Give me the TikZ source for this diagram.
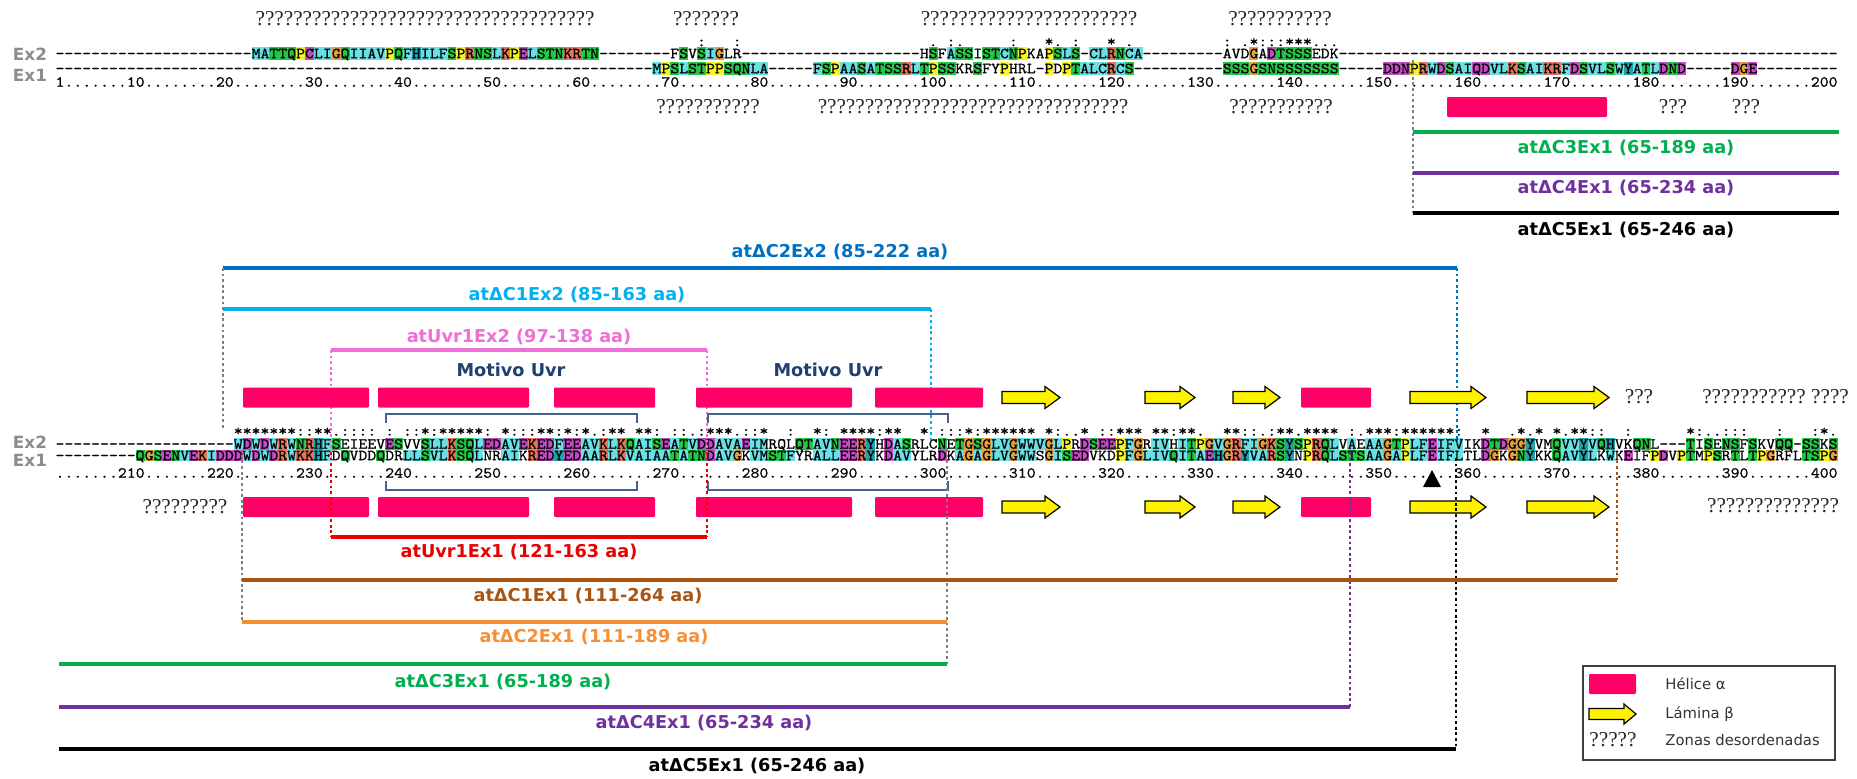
\documentclass[tikz,border=0pt]{standalone}
\usepackage{fontspec}
\setmainfont{DejaVu Sans}
\newfontfamily\qfont{Liberation Serif}
\newfontfamily\seqfont{lmmono10-regular}[Extension=.otf,FakeStretch=1.1,FakeBold=0.6]

\definecolor{rcc}{RGB}{104,224,228}
\definecolor{rcg}{RGB}{36,198,72}
\definecolor{rcm}{RGB}{196,76,196}
\definecolor{rcr}{RGB}{226,116,96}
\definecolor{rco}{RGB}{226,160,66}
\definecolor{rcy}{RGB}{244,244,40}
\definecolor{rct}{RGB}{30,162,170}
\definecolor{helixc}{RGB}{255,0,102}
\definecolor{cblue}{RGB}{0,112,192}
\definecolor{ccyan}{RGB}{0,176,240}
\definecolor{cpink}{RGB}{238,112,214}
\definecolor{cred}{RGB}{230,0,0}
\definecolor{cbrown}{RGB}{168,84,18}
\definecolor{corange}{RGB}{247,143,52}
\definecolor{cgreen}{RGB}{0,176,80}
\definecolor{cpurple}{RGB}{112,48,160}
\definecolor{motif}{RGB}{31,64,112}
\definecolor{brack}{RGB}{68,98,140}
\definecolor{exgray}{RGB}{140,140,140}
\definecolor{dotgray}{RGB}{128,128,128}

\ExplSyntaxOn
\cs_new:Npn \qrep #1 { \prg_replicate:nn {#1} {?} }
\ExplSyntaxOff

\makeatletter
\def\defres#1#2{\expandafter\def\csname rc@#1\endcsname{#2}}
\defres{A}{rcc}\defres{I}{rcc}\defres{L}{rcc}\defres{M}{rcc}\defres{F}{rcc}\defres{W}{rcc}\defres{V}{rcc}\defres{C}{rcc}
\defres{K}{rcr}\defres{R}{rcr}
\defres{E}{rcm}\defres{D}{rcm}
\defres{N}{rcg}\defres{Q}{rcg}\defres{S}{rcg}\defres{T}{rcg}
\defres{G}{rco}\defres{P}{rcy}\defres{H}{rct}\defres{Y}{rct}
\newcount\rcol
\def\seqrow#1#2#3#4{\rcol=#1\relax\def\rowy{#2}\def\rowh{#3}\seqloop#4\relax}
\def\seqloop#1{%
  \ifx#1\relax\let\next@seq\relax
  \else\ifx#1|\let\next@seq\seqspecial
  \else\placeres{#1}\advance\rcol by 1\relax\let\next@seq\seqloop\fi\fi
  \next@seq}
\def\seqspecial#1#2{\node[res,minimum height=\rowh pt,fill=rc#1] at ({60+(\the\rcol-1)*8.91},\rowy) {#2};\advance\rcol by 1\relax\seqloop}
\def\placeres#1{%
  \ifx#1_\else
  \ifcsname rc@#1\endcsname
    \expandafter\let\expandafter\thecl\csname rc@#1\endcsname
    \node[res,minimum height=\rowh pt,fill=\thecl] at ({60+(\the\rcol-1)*8.91},\rowy) {#1};%
  \else
    \node[res,minimum height=\rowh pt] at ({60+(\the\rcol-1)*8.91},\rowy) {\uppercase{#1}};%
  \fi\fi}
\def\dashrow#1#2#3#4{\foreach \c in {#1,...,#2}{\node[res,minimum height=#4pt] at ({60+(\c-1)*8.91},#3) {-};}}
\makeatother

\newcommand\betaarrow[3]{%
  \draw[sarrow] (#1,{#3-6}) -- ({#2-15},{#3-6}) -- ({#2-15},{#3-11}) -- (#2,#3) -- ({#2-15},{#3+11}) -- ({#2-15},{#3+6}) -- (#1,{#3+6}) -- cycle;}
\newcommand\helixbar[3]{\fill[helix] (#1,{#3-10}) rectangle (#2,{#3+10});}

\begin{document}
\begin{tikzpicture}[x=0.5pt,y=-0.5pt,
  res/.style={inner sep=0pt,outer sep=0pt,minimum width=4.5pt,text height=4.72pt,text depth=0pt,anchor=center},
  helix/.style={fill=helixc,rounded corners=0.6pt},
  sarrow/.style={fill=yellow,draw=black,line width=0.6pt,line join=miter},
  lab/.style={font=\bfseries\fontsize{8.85}{10.6}\selectfont,inner sep=0pt},
  exlab/.style={font=\bfseries\fontsize{8.4}{10}\selectfont,text=exgray,inner sep=0pt},
  qq/.style={font=\qfont\fontsize{10.6}{12}\selectfont,inner sep=0pt,text=black!85},
  legtext/.style={font=\fontsize{7.4}{9}\selectfont,text=black!80,inner sep=0pt,anchor=west},
  hline/.style={line width=1.75pt},
  vdot/.style={line width=1.4pt,dash pattern=on 1.4pt off 1.4pt},
  brk/.style={draw=brack,line width=0.85pt}]
\fill[white] (0,0) rectangle (1857,778);
\useasboundingbox (0,0) rectangle (1857,778);

% ---------- row labels
\node[exlab] (ex2t) at (30,54) {Ex2};
\node[exlab] (ex1t) at (30,75) {Ex1};
\node[exlab] (ex2b) at (30,442) {Ex2};
\node[exlab] (ex1b) at (30,460) {Ex1};

% ---------- alignment (top)
{\seqfont\fontsize{7.72}{9}\selectfont
% conservation
\seqrow{73}{41.5}{3}{:___:}
\seqrow{99}{41.5}{3}{._:.}
\seqrow{108}{41.5}{3}{:___*._:___*_.}
\seqrow{132}{41.5}{3}{:_.*:::***...}
% Ex2
\dashrow{1}{22}{53.5}{6.5}
\seqrow{23}{53.5}{6.5}{MATTQP|mCLIGQIIAVPQFHILFSPRNSLKPELSTNKRTN}
\dashrow{62}{69}{53.5}{6.5}
\seqrow{70}{53.5}{6.5}{fSvSIGlr}
\dashrow{78}{97}{53.5}{6.5}
\seqrow{98}{53.5}{6.5}{hSfASSiSTCNPkaPSLS-CLRNCA}
\dashrow{123}{131}{53.5}{6.5}
\seqrow{132}{53.5}{6.5}{avdGaDTSSSedk}
\dashrow{145}{200}{53.5}{6.5}
% Ex1
\dashrow{1}{67}{68.5}{6.5}
\seqrow{68}{68.5}{6.5}{MPSLSTPPSQNLA}
\dashrow{81}{85}{68.5}{6.5}
\seqrow{86}{68.5}{6.5}{FSPAASATSSRLTPSSkrSfyPhrl-PdPTALCRCS}
\dashrow{122}{131}{68.5}{6.5}
\seqrow{132}{68.5}{6.5}{SSSGSNSSSSSSS}
\dashrow{145}{149}{68.5}{6.5}
\seqrow{150}{68.5}{6.5}{DD|mNPRWDSAI|mQDVLKSAIKRFDSVLSWYATLDND}
\dashrow{184}{188}{68.5}{6.5}
\seqrow{189}{68.5}{6.5}{DGE}
\dashrow{192}{200}{68.5}{6.5}
% ruler
\seqrow{1}{82}{3}{1.......10........20........30........40........50........60........70........80........90}
\seqrow{91}{82}{3}{.......100.......110.......120.......130.......140.......150.......160.......170.......180.......190.......200}

% ---------- alignment (bottom)
\seqrow{21}{431}{3}{*******::**.::::}
\seqrow{38}{431}{3}{:_::*:*****:}
\seqrow{51}{431}{3}{*:::**:*:*.:**_**:}
\seqrow{70}{431}{3}{::.:***.::*}
\seqrow{83}{431}{3}{:__*:_****:**}
\seqrow{98}{431}{3}{*_:::*:******_*:..*_::***_**:**.}
\seqrow{132}{431}{3}{**::.:**.****_:.***:******:}
\seqrow{161}{431}{3}{*__.*.*_*.**::__:}
\seqrow{184}{431}{3}{*:..:::___:___:*.}
% Ex2
\dashrow{1}{20}{444}{5.75}
\seqrow{21}{444}{5.75}{WDWDWRWNRHFSeieevESvvSLLKSQL}
\seqrow{49}{444}{5.75}{EDAVEKEDFEEAVKLKQAISEATVDDAVAEIMrqlQTAVNEERYhDASr}
\seqrow{98}{444}{5.75}{lcNeTGSGLVGWWVGLPrDSEEPFGrIVhITPGVGRFIGKSYSPRQLvAeAA}
\seqrow{150}{444}{5.75}{GTPLFEIFVikDTDGGYvmQVVYVQHvkQNl---TiSeNSfSkvQQ-SSkS}
% Ex1
\dashrow{1}{9}{455.5}{5.75}
\seqrow{10}{455.5}{5.75}{QGSENVEKIDDDWDWDRWKKHFdQvddQdrLLSVLKSQL}
\seqrow{49}{455.5}{5.75}{nrAIkREDYEDAARLKVAIAATATNDAVGkVMSTFyrALLEERYkDAVy}
\seqrow{98}{455.5}{5.75}{lrDkAGAGLVGWWsGISEDvkdPFGLIVQITAEHGRYVARSYnPRQLSTSAA}
\seqrow{150}{455.5}{5.75}{GAPLFEIFLtlDGkGNYkkQAVYLkWkEifPDvPTmPSrTlTPGrflTSPG}
% ruler
\seqrow{1}{473}{3}{.......210.......220.......230.......240.......250.......260.......270.......280.......290.......300}
\seqrow{101}{473}{3}{.......310.......320.......330.......340.......350.......360.......370.......380.......390.......400}
}

% ---------- disordered zones (top)
\node[qq] (qa) at (425,19) {\qrep{36}};
\node[qq] (qb) at (706,19) {\qrep{7}};
\node[qq] (qc) at (1029,19) {\qrep{23}};
\node[qq] (qd) at (1280,19) {\qrep{11}};
\node[qq] (qe) at (708,107) {\qrep{11}};
\node[qq] (qf) at (973,107) {\qrep{33}};
\node[qq] (qg) at (1281,107) {\qrep{11}};
\node[qq] (qh) at (1673,107) {\qrep{3}};
\node[qq] (qi) at (1746,107) {\qrep{3}};

% ---------- top right constructs
\fill[helix] (1447,97) rectangle (1607,117);
\draw[vdot,dotgray] (1413,60) -- (1413,213);
\draw[hline,cgreen] (1413,132) -- (1839,132);
\draw[hline,cpurple] (1413,173) -- (1839,173);
\draw[hline,black] (1413,213) -- (1839,213);
\node[lab,text=cgreen] (t3) at (1626,148) {atΔC3Ex1 (65-189 aa)};
\node[lab,text=cpurple] (t4) at (1626,188) {atΔC4Ex1 (65-234 aa)};
\node[lab,text=black] (t5) at (1626,230) {atΔC5Ex1 (65-246 aa)};

% ---------- Ex2 constructs (middle)
\draw[hline,cblue] (223,268) -- (1457,268);
\node[lab,text=cblue] (c2e2) at (840,252) {atΔC2Ex2 (85-222 aa)};
\draw[hline,ccyan] (223,309) -- (931,309);
\node[lab,text=ccyan] (c1e2) at (577,295) {atΔC1Ex2 (85-163 aa)};
\draw[hline,cpink] (331,350) -- (707,350);
\node[lab,text=cpink] (u1e2) at (519,337) {atUvr1Ex2 (97-138 aa)};
\node[lab,text=motif] (mot1) at (511,370) {Motivo Uvr};
\node[lab,text=motif] (mot2) at (828,370) {Motivo Uvr};

\draw[vdot,dotgray] (223,268) -- (223,430);
\draw[vdot,ccyan] (931,309) -- (931,440);
\draw[vdot,cblue] (1457,268) -- (1457,446);
\draw[vdot,cpink] (331,350) -- (331,452);
\draw[vdot,cpink] (707,350) -- (707,452);

% brackets (Motivo Uvr)
\draw[brk] (386,423) -- (386,414) -- (637,414) -- (637,423);
\draw[brk] (708,423) -- (708,414) -- (948,414) -- (948,423);
\draw[brk] (386,481) -- (386,490) -- (637,490) -- (637,481);
\draw[brk] (708,481) -- (708,490) -- (948,490) -- (948,481);

% ---------- secondary structure rows
\foreach \yc in {397.5,507}{
  \helixbar{243}{369}{\yc}
  \helixbar{378}{529}{\yc}
  \helixbar{554}{655}{\yc}
  \helixbar{696}{852}{\yc}
  \helixbar{875}{983}{\yc}
  \helixbar{1301}{1371}{\yc}
  \betaarrow{1002}{1060}{\yc}
  \betaarrow{1145}{1195}{\yc}
  \betaarrow{1233}{1280}{\yc}
  \betaarrow{1410}{1486}{\yc}
  \betaarrow{1527}{1609}{\yc}
}
\node[qq] (qj) at (1639,397) {\qrep{3}};
\node[qq] (qk) at (1754,397) {\qrep{11}};
\node[qq] (ql) at (1830,397) {\qrep{4}};
\node[qq] (qm) at (185,507) {\qrep{9}};
\node[qq] (qn) at (1773,506) {\qrep{14}};

% marker
\fill[black] (1432,470) -- (1441,487) -- (1423,487) -- cycle;

% ---------- Ex1 constructs (bottom)
\draw[vdot,cred] (331,452) -- (331,537);
\draw[vdot,cred] (707,452) -- (707,537);
\draw[vdot,dotgray] (242,455) -- (242,622);
\draw[vdot,dotgray] (947,449) -- (947,664);
\draw[vdot,cpurple] (1350,452) -- (1350,707);
\draw[vdot,black] (1456,458) -- (1456,749);
\draw[vdot,cbrown] (1617,455) -- (1617,580);

\draw[hline,cred] (331,537) -- (707,537);
\node[lab,text=cred] (u1e1) at (519,552) {atUvr1Ex1 (121-163 aa)};
\draw[hline,cbrown] (242,580) -- (1617,580);
\node[lab,text=cbrown] (c1e1) at (588,596) {atΔC1Ex1 (111-264 aa)};
\draw[hline,corange] (242,622) -- (947,622);
\node[lab,text=corange] (c2e1) at (594,637) {atΔC2Ex1 (111-189 aa)};
\draw[hline,cgreen] (59,664) -- (947,664);
\node[lab,text=cgreen] (c3e1) at (503,682) {atΔC3Ex1 (65-189 aa)};
\draw[hline,cpurple] (59,707) -- (1350,707);
\node[lab,text=cpurple] (c4e1) at (704,723) {atΔC4Ex1 (65-234 aa)};
\draw[hline,black] (59,749) -- (1456,749);
\node[lab,text=black] (c5e1) at (757,766) {atΔC5Ex1 (65-246 aa)};

% ---------- legend
\draw[draw=black!75,line width=0.6pt] (1583,666) rectangle (1835,760);
\fill[helix] (1589,674) rectangle (1636,694);
\draw[sarrow] (1589,708.5) -- (1624,708.5) -- (1624,704) -- (1636,714) -- (1624,724) -- (1624,719.5) -- (1589,719.5) -- cycle;
\node[qq] (lq) at (1613,740) {\qrep{5}};
\node[legtext] (l1) at (1665,684) {Hélice α};
\node[legtext] (l2) at (1665,714) {Lámina β};
\node[legtext] (l3) at (1665,740) {Zonas desordenadas};
\end{tikzpicture}
\end{document}
